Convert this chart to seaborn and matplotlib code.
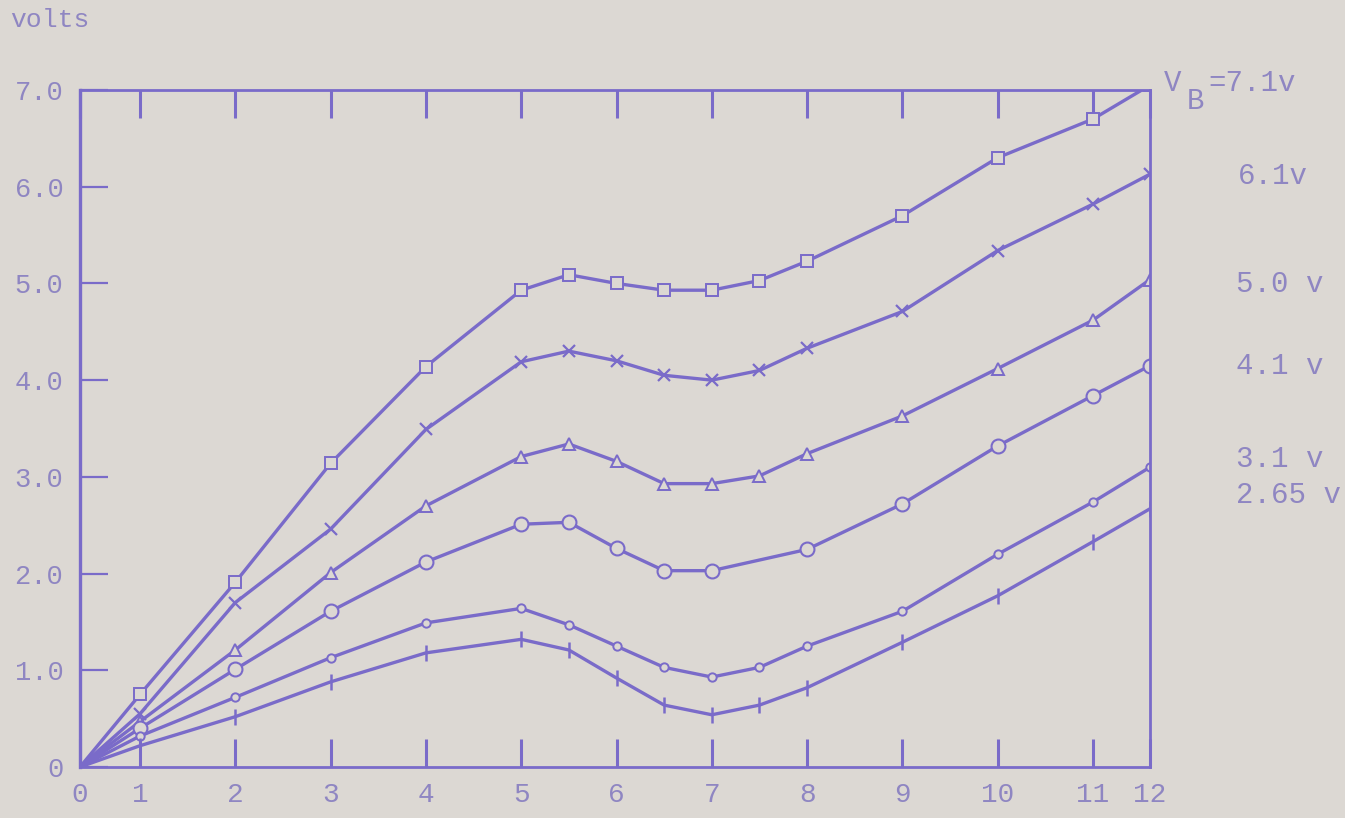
import numpy as np
import pandas as pd
import matplotlib
matplotlib.use("Agg")
import matplotlib.pyplot as plt
import seaborn as sns

# ---------------- data ----------------
x_full = [0, 1, 2, 3, 4, 5, 5.5, 6, 6.5, 7, 7.5, 8, 9, 10, 11, 12]
x_circ = [0, 1, 2, 3, 4, 5, 5.5, 6, 6.5, 7, 8, 9, 10, 11, 12]

vb_7_1 = [0, 0.75, 1.91, 3.14, 4.14, 4.93, 5.09, 5.00, 4.93, 4.93, 5.03, 5.23, 5.70, 6.30, 6.70, 7.05]
vb_6_1 = [0, 0.55, 1.70, 2.46, 3.49, 4.19, 4.30, 4.20, 4.05, 4.00, 4.10, 4.33, 4.71, 5.34, 5.82, 6.13]
vb_5_0 = [0, 0.47, 1.21, 2.01, 2.70, 3.21, 3.34, 3.16, 2.93, 2.93, 3.01, 3.24, 3.63, 4.12, 4.62, 5.04]
vb_4_1 = [0, 0.40, 1.01, 1.61, 2.12, 2.51, 2.53, 2.26, 2.03, 2.03, 2.25, 2.72, 3.32, 3.84, 4.15]
vb_3_1 = [0, 0.32, 0.72, 1.13, 1.49, 1.64, 1.47, 1.25, 1.03, 0.93, 1.03, 1.25, 1.61, 2.20, 2.74, 3.10]
vb_2_65 = [0, 0.22, 0.52, 0.88, 1.18, 1.32, 1.21, 0.92, 0.64, 0.54, 0.64, 0.82, 1.29, 1.77, 2.33, 2.67]

series_names = ["7.1v", "6.1v", "5.0 v", "4.1 v", "3.1 v", "2.65 v"]
series_x = [x_full, x_full, x_full, x_circ, x_full, x_full]
series_y = [vb_7_1, vb_6_1, vb_5_0, vb_4_1, vb_3_1, vb_2_65]

x_ticks = list(range(13))
x_tick_labels = [str(v) for v in x_ticks]
y_ticks = [0, 1, 2, 3, 4, 5, 6, 7]
y_tick_labels = ["0", "1.0", "2.0", "3.0", "4.0", "5.0", "6.0", "7.0"]

# ---------------- style ----------------
W, H = 1345, 818
BG = "#dcd8d3"
INK = "#7a6bc9"
TXT = "#8f86c2"
FONT = ["Liberation Mono", "DejaVu Sans Mono"]

sns.set_style("white")
plt.rcParams["font.family"] = FONT

fig = plt.figure(figsize=(W / 100, H / 100), dpi=100)
fig.patch.set_facecolor(BG)
ax = fig.add_axes([80 / W, 51 / H, 1070 / W, 677 / H])
ax.set_facecolor(BG)

marker_styles = [
    dict(marker="s", markersize=8, mew=1.4),
    dict(marker="x", markersize=9, mew=1.6),
    dict(marker="^", markersize=9, mew=1.4),
    dict(marker="o", markersize=10, mew=1.5),
    dict(marker="o", markersize=6, mew=1.4),
    dict(marker="|", markersize=12, mew=1.8),
]

for name, xs, ys, ms in zip(series_names, series_x, series_y, marker_styles):
    df = pd.DataFrame({"x": xs, "y": ys})
    sns.lineplot(data=df, x="x", y="y", ax=ax, color=INK, lw=2.4,
                 markerfacecolor=BG, markeredgecolor=INK,
                 markevery=list(range(1, len(xs))), legend=False, **ms)

# non-uniform printed x scale (end intervals are compressed on the original sheet)
kx = [-50, 0, 1, 11, 12, 60]
kp = [-3000, 0, 60, 1013, 1070, 1070 + 48 * 57]
ax.set_xscale("function", functions=(lambda v: np.interp(v, kx, kp),
                                     lambda p: np.interp(p, kp, kx)))
ax.set_xlim(0, 12)
ax.set_ylim(0, 7)
ax.set_xticks(x_ticks)
ax.set_xticklabels(x_tick_labels)
ax.set_yticks(y_ticks)
ax.set_yticklabels(y_tick_labels)
ax.minorticks_off()
ax.set_xlabel("")
ax.set_ylabel("")

ax.tick_params(axis="x", direction="in", length=20, width=2.2, color=INK,
               top=True, bottom=True, labelsize=20, labelcolor=TXT, pad=11)
ax.tick_params(axis="y", direction="in", length=20, width=1.6, color=INK,
               left=True, right=False, labelsize=19.5, labelcolor=TXT, pad=12)
for lab in ax.get_xticklabels() + ax.get_yticklabels():
    lab.set_fontfamily(FONT)

for side, sp in ax.spines.items():
    sp.set_visible(True)
    sp.set_color(INK)
    sp.set_linewidth(2.4 if side == "left" else 2.0)
ax.grid(False)


def ftxt(px, py, s, **kw):
    opts = dict(color=TXT, fontsize=21, family=FONT, va="center", ha="left")
    opts.update(kw)
    fig.text(px / W, 1 - py / H, s, **opts)


ftxt(10, 20, "volts", fontsize=19)
ftxt(1164, 83, "V")
ftxt(1187, 101, "B")
ftxt(1208, 83, "=7.1v")
right_label_pos = [(1238, 176), (1236, 284), (1236, 366), (1236, 459), (1236, 495)]
for name, (px, py) in zip(series_names[1:], right_label_pos):
    ftxt(px, py, name)

fig.savefig("out.png", dpi=100, facecolor=BG)
